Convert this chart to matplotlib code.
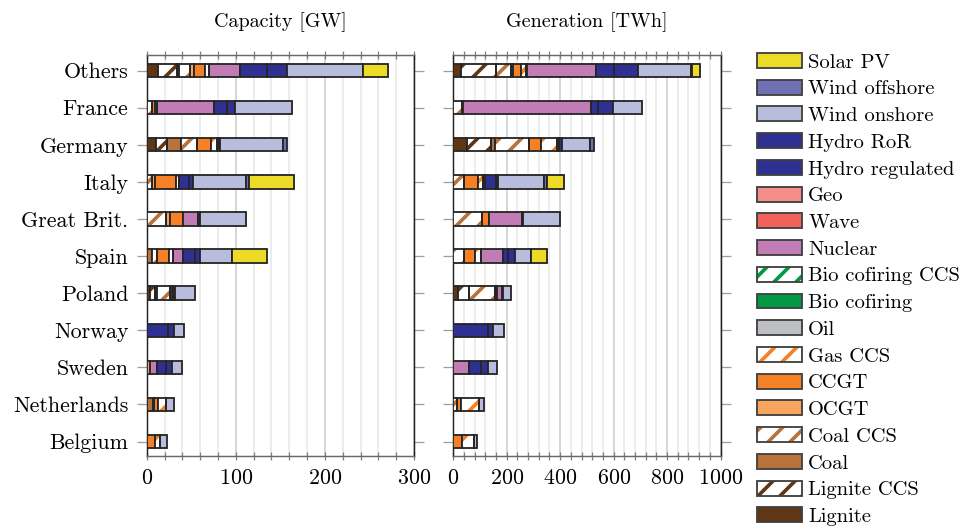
import matplotlib
matplotlib.use("Agg")
import matplotlib.pyplot as plt
from matplotlib.patches import Patch
from matplotlib.legend_handler import HandlerTuple
from matplotlib.ticker import MultipleLocator

plt.rcParams['font.family'] = ['cmr10', 'DejaVu Serif']
plt.rcParams['axes.formatter.use_mathtext'] = True
plt.rcParams['hatch.linewidth'] = 2.0

countries = ["Others", "France", "Germany", "Italy", "Great Brit.", "Spain",
             "Poland", "Norway", "Sweden", "Netherlands", "Belgium"]

techs = ["Lignite", "Lignite CCS", "Coal", "Coal CCS", "OCGT", "CCGT", "Gas CCS",
         "Oil", "Bio cofiring", "Bio cofiring CCS", "Nuclear", "Wave", "Geo",
         "Hydro regulated", "Hydro RoR", "Wind onshore", "Wind offshore", "Solar PV"]
colors = ["#5f3715", "#5f3715", "#b8733c", "#b8733c", "#f9a55f", "#f58025", "#f58025",
          "#bebfc3", "#009944", "#009944", "#c17cb5", "#f0625a", "#f58e89",
          "#2e3192", "#2e3192", "#b8bcdd", "#7070b5", "#ecdc28"]
hatched = [False, True, False, True, False, False, True,
           False, False, True, False, False, False,
           False, False, False, False, False]

# capacity [GW], one list per country in the order of techs
cap_others = [12.4, 22.1, 2, 11.6, 4.5, 12.4, 4.5, 0, 0, 0, 34.8, 0, 0, 30.7, 22.5, 85, 0.8, 27.3]
cap_france = [0, 0, 0, 6.4, 0, 2.6, 2.2, 0, 0, 0, 64.4, 0, 0, 14.2, 9.4, 64, 0, 0]
cap_germany = [10.1, 12.4, 15.7, 18.7, 0, 15, 7.5, 0, 0, 0, 0, 0, 0, 1.2, 1.5, 70.4, 4.5, 0]
cap_italy = [0, 0, 0, 5.6, 3.4, 23.6, 3.7, 0, 0, 0, 0, 0, 0, 11, 4.5, 60, 3, 50.6]
cap_gb = [0, 0, 0, 21.3, 4.5, 15, 0, 0, 0, 0, 16.9, 0, 0, 1.5, 1.1, 51.7, 0, 0]
cap_spain = [0, 0, 6.4, 5.6, 0, 13.5, 3.7, 0, 0, 0, 12, 0, 0, 13.1, 5.6, 35.6, 0, 39.3]
cap_poland = [3.7, 5.6, 2.6, 14.2, 0, 1.5, 1.5, 0, 0, 0, 2.6, 0, 0, 0, 0, 22.5, 0, 0]
cap_norway = [0, 0, 0, 0, 0, 0, 0, 0, 0, 0, 0, 0, 0, 24.3, 6.7, 11.2, 0, 0]
cap_sweden = [0, 0, 0, 0, 3.7, 0, 0, 0, 0, 0, 7.5, 0, 0, 10.5, 6.4, 12, 0, 0]
cap_netherlands = [0, 0, 6.7, 1.9, 0, 4.5, 8.6, 0, 0, 0, 0, 0, 0, 0, 0, 9.4, 0, 0]
cap_belgium = [0, 0, 0, 0, 0, 9.5, 5.6, 0, 0, 0, 0, 0, 0, 0, 0, 7.9, 0, 0]

# generation [TWh]
gen_others = [27, 134, 0, 56, 6, 28.5, 21, 2, 3, 0, 257, 0, 0, 66, 89, 199, 4, 31]
gen_france = [0, 0, 0, 31, 0, 4, 0, 0, 0, 0, 481, 0, 0, 27, 53, 109, 0, 0]
gen_germany = [53, 89, 15, 125, 0, 48, 57, 0, 0, 0, 0, 0, 0, 9, 12, 103, 17, 0]
gen_italy = [0, 0, 0, 41, 0, 52, 19, 6, 0, 0, 0, 0, 0, 40, 10, 171, 12, 62]
gen_gb = [0, 0, 0, 106, 0, 27, 0, 0, 0, 0, 124, 0, 0, 2, 2, 140, 0, 0]
gen_spain = [0, 0, 0, 40, 0, 41, 22, 0, 0, 0, 83, 0, 0, 19, 27, 60, 0, 58]
gen_poland = [16, 42, 0, 99, 0, 6, 0, 0, 0, 0, 19, 0, 0, 2, 3, 30, 0, 0]
gen_norway = [0, 0, 0, 0, 0, 0, 0, 0, 0, 0, 0, 0, 0, 128, 21, 41, 0, 0]
gen_sweden = [0, 0, 0, 0, 0, 0, 0, 0, 0, 0, 60, 0, 0, 42, 26, 34, 0, 0]
gen_netherlands = [0, 0, 0, 12, 0, 16, 67, 0, 0, 0, 0, 0, 0, 0, 0, 20, 0, 0]
gen_belgium = [0, 0, 0, 0, 0, 34, 45, 0, 0, 0, 0, 0, 0, 0, 0, 11, 0, 0]

cap_rows = [cap_others, cap_france, cap_germany, cap_italy, cap_gb, cap_spain,
            cap_poland, cap_norway, cap_sweden, cap_netherlands, cap_belgium]
gen_rows = [gen_others, gen_france, gen_germany, gen_italy, gen_gb, gen_spain,
            gen_poland, gen_norway, gen_sweden, gen_netherlands, gen_belgium]

EDGE = "#262626"
LW = 1.0
H = 0.36
DPI = 132
W, HGT = 965, 529

fig = plt.figure(figsize=(W / DPI, HGT / DPI), dpi=DPI)
ax1 = fig.add_axes([146.7 / W, 1 - 456 / HGT, (414 - 146.7) / W, (456 - 55) / HGT])
ax2 = fig.add_axes([453.3 / W, 1 - 456 / HGT, (720.5 - 453.3) / W, (456 - 55) / HGT])


def draw(ax, rows):
    n = len(rows)
    ypos = [n - 1 - i for i in range(n)]
    left = [0.0] * n
    for j in range(len(techs)):
        vals = [r[j] for r in rows]
        idx = [i for i in range(n) if vals[i] > 0]
        if idx:
            yy = [ypos[i] for i in idx]
            ww = [vals[i] for i in idx]
            ll = [left[i] for i in idx]
            if hatched[j]:
                ax.barh(yy, ww, left=ll, height=H, color="white", edgecolor=colors[j],
                        hatch="//", linewidth=0, zorder=3)
                ax.barh(yy, ww, left=ll, height=H, fill=False, edgecolor=EDGE,
                        linewidth=LW, zorder=4)
            else:
                ax.barh(yy, ww, left=ll, height=H, color=colors[j], edgecolor=EDGE,
                        linewidth=LW, zorder=3)
        left = [a + b for a, b in zip(left, vals)]
    ax.set_ylim(-0.39, n - 1 + 0.42)
    ax.set_yticks(ypos)


draw(ax1, cap_rows)
draw(ax2, gen_rows)

ax1.set_yticklabels(countries, fontsize=12)
ax2.set_yticklabels([])
ax1.set_xlim(0, 300)
ax1.xaxis.set_major_locator(MultipleLocator(100))
ax1.xaxis.set_minor_locator(MultipleLocator(20))
ax2.set_xlim(0, 1000)
ax2.xaxis.set_major_locator(MultipleLocator(200))
ax2.xaxis.set_minor_locator(MultipleLocator(40))

for ax, title in [(ax1, "Capacity [GW]"), (ax2, "Generation [TWh]")]:
    ax.set_title(title, fontsize=11, pad=15)
    ax.set_axisbelow(True)
    ax.grid(axis="x", which="major", color="#cfcfcf", linewidth=0.9)
    ax.grid(axis="x", which="minor", color="#e8e8e8", linewidth=0.9)
    ax.tick_params(axis="x", which="both", direction="inout", length=4, width=0.7,
                   color="#808080", top=True, labelsize=12, pad=5)
    ax.tick_params(axis="y", which="both", direction="out", length=5.5, width=0.7,
                   color="#a0a0a0", right=True, pad=4.5)
    for s in ["left", "right"]:
        ax.spines[s].set_color("#222222")
        ax.spines[s].set_linewidth(0.8)
    for s in ["top", "bottom"]:
        ax.spines[s].set_color("#6a6a6a")
        ax.spines[s].set_linewidth(0.8)

handles = []
for j in range(len(techs) - 1, -1, -1):
    if hatched[j]:
        handles.append((Patch(facecolor="white", edgecolor=colors[j], hatch="//", linewidth=0),
                        Patch(fill=False, edgecolor="#404040", linewidth=LW)))
    else:
        handles.append(Patch(facecolor=colors[j], edgecolor="#404040", linewidth=LW))
labels = techs[::-1]

fig.legend(handles, labels, loc="upper left", bbox_to_anchor=(757 / W, 1 - 53 / HGT),
           frameon=False, fontsize=11.2, handlelength=2.2, handleheight=0.74,
           handletextpad=0.3, labelspacing=0.395, borderpad=0, borderaxespad=0,
           handler_map={tuple: HandlerTuple(ndivide=1, pad=0)})

fig.savefig("out.png", dpi=DPI)
